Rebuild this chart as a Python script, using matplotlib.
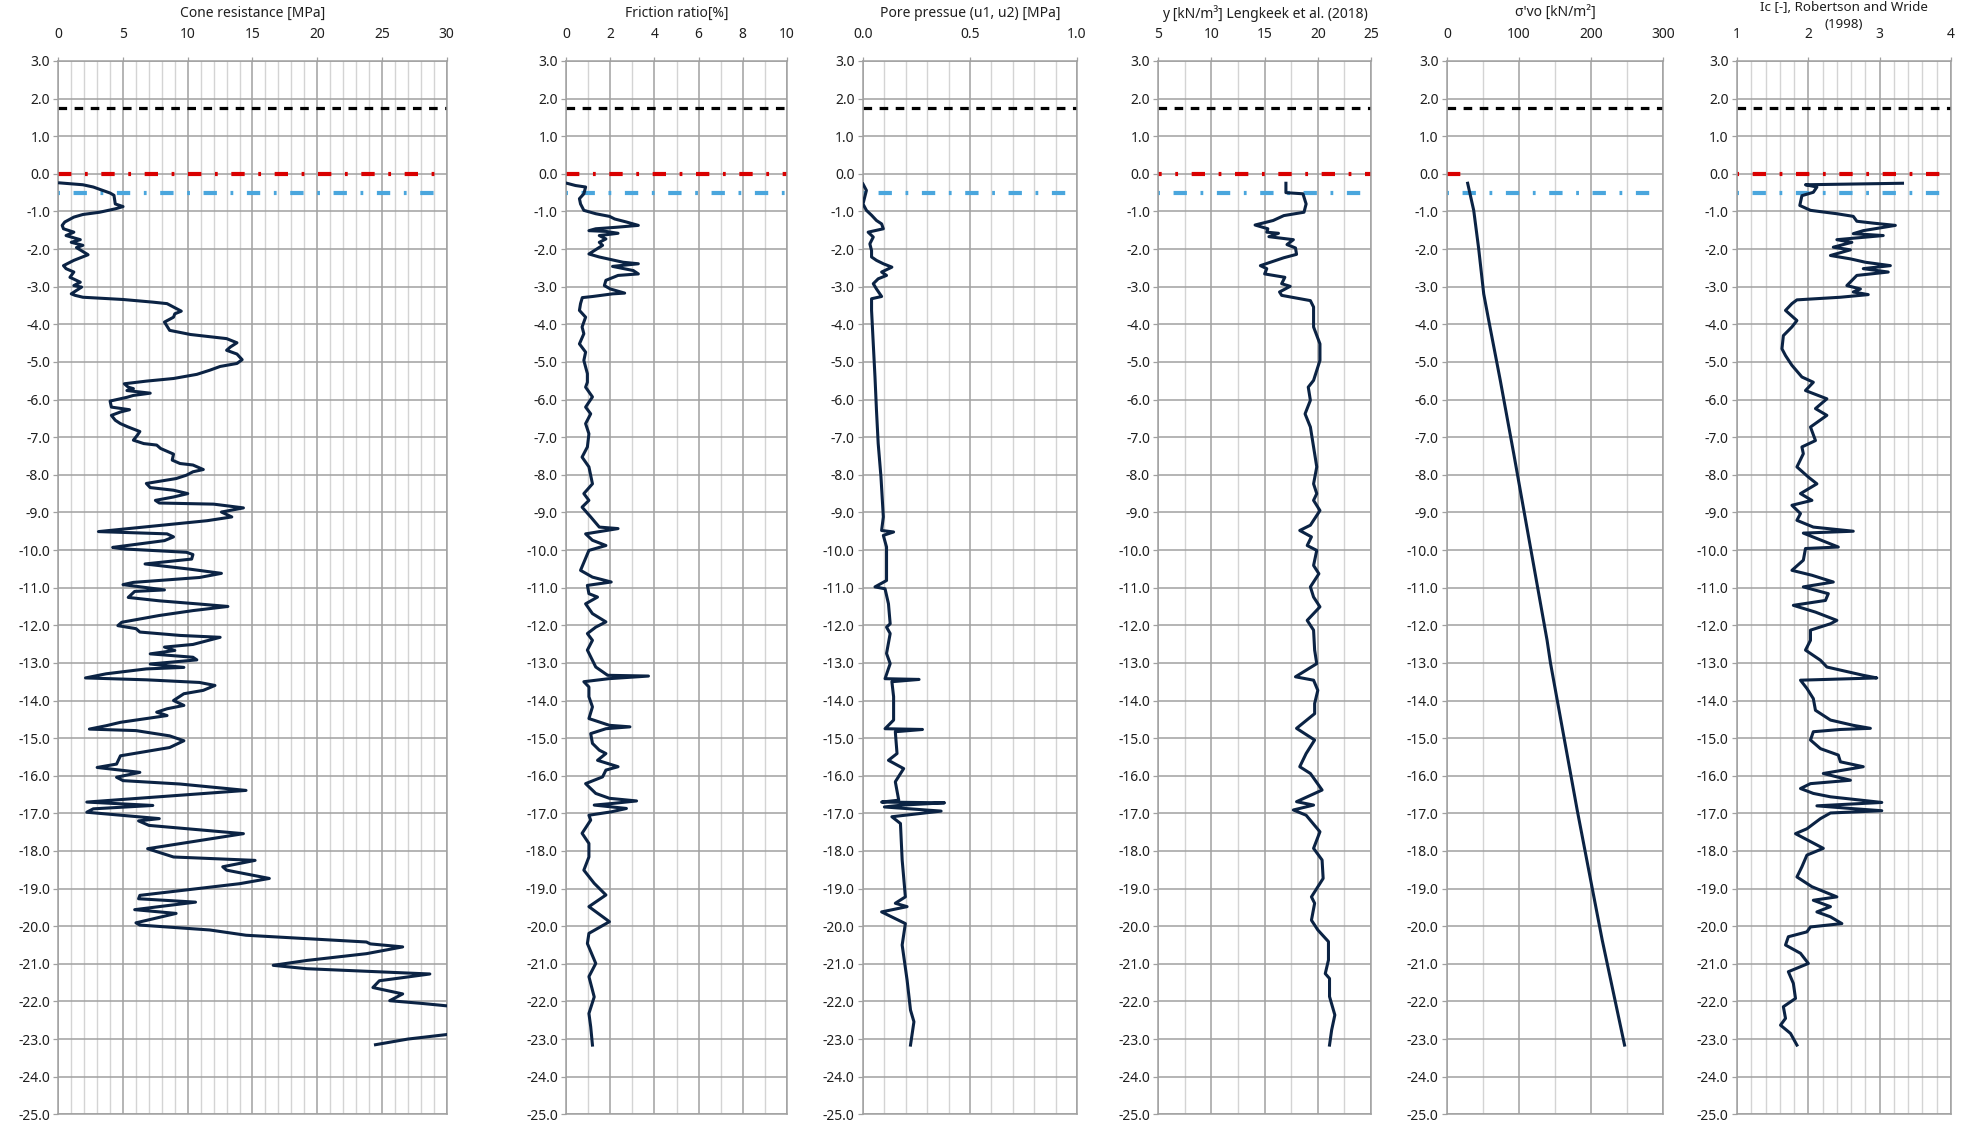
import matplotlib
matplotlib.use("Agg")
import matplotlib.pyplot as plt
from matplotlib.ticker import MultipleLocator, FormatStrFormatter

plt.rcParams['font.family'] = ['Noto Sans', 'DejaVu Sans']
plt.rcParams['axes.unicode_minus'] = False
plt.rcParams['lines.scale_dashes'] = False

# ---------------- CPT data (elevation in m, value) ----------------
qc_elev = [-0.24, -0.29, -0.35, -0.51, -0.57, -0.80, -0.87, -0.93, -1.02, -1.08, -1.15, -1.28,
           -1.37, -1.46, -1.55, -1.64, -1.75, -1.82, -1.90, -1.96, -2.15, -2.30, -2.44, -2.52,
           -2.61, -2.75, -2.88, -2.97, -3.01, -3.19, -3.23, -3.28, -3.34, -3.41, -3.45, -3.54,
           -3.65, -3.72, -3.81, -3.94, -4.16, -4.27, -4.38, -4.49, -4.60, -4.69, -4.79, -4.94,
           -5.04, -5.12, -5.22, -5.33, -5.44, -5.51, -5.58, -5.67, -5.71, -5.76, -5.83, -5.89,
           -5.94, -6.04, -6.20, -6.27, -6.33, -6.42, -6.55, -6.64, -6.73, -6.85, -6.95, -7.08,
           -7.17, -7.21, -7.30, -7.45, -7.61, -7.70, -7.74, -7.86, -7.92, -8.01, -8.10, -8.23,
           -8.34, -8.41, -8.50, -8.59, -8.68, -8.75, -8.78, -8.88, -8.99, -9.12, -9.22, -9.51,
           -9.57, -9.65, -9.75, -9.93, -9.97, -10.06, -10.12, -10.24, -10.37, -10.51, -10.62,
           -10.73, -10.86, -10.92, -11.06, -11.10, -11.26, -11.35, -11.43, -11.50, -11.61,
           -11.74, -11.92, -12.01, -12.09, -12.18, -12.27, -12.32, -12.41, -12.51, -12.58,
           -12.67, -12.76, -12.85, -12.92, -13.03, -13.12, -13.16, -13.29, -13.40, -13.45,
           -13.52, -13.60, -13.73, -13.82, -14.00, -14.13, -14.22, -14.31, -14.40, -14.58,
           -14.67, -14.76, -14.80, -14.94, -15.07, -15.25, -15.47, -15.69, -15.78, -15.91,
           -16.04, -16.13, -16.22, -16.39, -16.53, -16.70, -16.79, -16.88, -16.97, -17.05,
           -17.14, -17.20, -17.32, -17.54, -17.94, -18.16, -18.25, -18.42, -18.51, -18.73,
           -18.87, -19.18, -19.27, -19.36, -19.56, -19.66, -19.91, -19.97, -20.10, -20.24,
           -20.42, -20.47, -20.55, -20.73, -20.91, -21.04, -21.13, -21.27, -21.45, -21.63,
           -21.80, -21.98, -22.05, -22.15, -22.50, -22.88, -23.00, -23.15]
qc_mpa = [0.1, 1.9, 2.7, 4.0, 4.3, 4.4, 5.0, 4.4, 3.2, 1.9, 1.2, 0.5,
          0.3, 0.4, 1.2, 0.6, 1.7, 1.0, 1.9, 1.4, 2.3, 1.2, 0.4, 0.6,
          1.2, 0.9, 1.7, 1.2, 1.8, 1.0, 1.3, 1.9, 5.0, 7.3, 8.4, 8.9,
          9.5, 9.0, 8.9, 8.2, 8.6, 10.2, 13.0, 13.8, 13.3, 13.0, 13.8, 14.2,
          13.8, 12.5, 11.7, 10.7, 8.9, 6.8, 5.1, 5.4, 5.8, 5.3, 7.1, 5.8,
          5.3, 4.0, 4.1, 5.5, 4.8, 4.1, 4.4, 4.8, 5.4, 6.3, 6.1, 5.8,
          6.6, 7.6, 7.9, 8.9, 8.8, 9.4, 10.4, 11.2, 10.4, 9.9, 9.1, 6.8,
          7.1, 8.9, 10.0, 8.9, 7.5, 7.8, 12.0, 14.3, 12.6, 13.4, 11.5, 3.1,
          8.4, 8.9, 8.2, 4.2, 5.0, 9.9, 10.4, 10.3, 6.7, 10.2, 12.6,
          10.9, 5.8, 5.0, 8.2, 5.9, 5.4, 7.8, 10.7, 13.1, 10.4,
          7.8, 4.9, 4.6, 6.0, 6.3, 9.4, 12.5, 11.5, 10.4, 8.2,
          9.0, 7.1, 10.4, 10.7, 7.1, 9.7, 6.8, 3.7, 2.1, 6.8,
          10.9, 12.1, 11.2, 9.7, 8.9, 9.7, 8.4, 7.6, 8.4, 4.8,
          3.7, 2.4, 6.0, 8.6, 9.7, 8.6, 4.8, 4.5, 3.0, 6.3,
          4.5, 5.0, 9.4, 14.5, 8.9, 2.2, 7.3, 2.7, 2.2, 4.8,
          7.8, 6.2, 7.0, 14.3, 6.9, 8.9, 15.2, 12.7, 13.0, 16.3,
          14.0, 6.3, 6.2, 10.6, 5.9, 9.1, 6.0, 6.3, 11.7, 14.5,
          23.8, 24.1, 26.6, 23.8, 19.2, 16.6, 19.2, 28.7, 24.8, 24.3,
          26.6, 25.6, 28.0, 31.0, 40.0, 30.0, 27.0, 24.5]

rf_elev = [-0.25, -0.31, -0.35, -0.53, -0.66, -0.80, -0.97, -1.06, -1.13, -1.20, -1.28, -1.37,
           -1.42, -1.46, -1.51, -1.53, -1.58, -1.64, -1.73, -1.82, -1.90, -2.13, -2.21, -2.35,
           -2.39, -2.46, -2.57, -2.66, -2.70, -2.83, -2.97, -3.06, -3.17, -3.19, -3.26, -3.29,
           -3.45, -3.63, -3.81, -4.07, -4.25, -4.52, -4.74, -4.96, -5.31, -5.54, -5.67, -5.93,
           -6.20, -6.38, -6.64, -6.91, -7.26, -7.53, -7.79, -8.24, -8.50, -8.68, -8.86, -9.12,
           -9.39, -9.43, -9.57, -9.74, -9.88, -10.01, -10.54, -10.72, -10.85, -10.94, -11.16,
           -11.25, -11.43, -11.69, -11.91, -12.05, -12.22, -12.40, -12.66, -13.11, -13.33,
           -13.35, -13.42, -13.50, -13.64, -13.90, -14.17, -14.48, -14.66, -14.70, -14.75,
           -14.88, -15.14, -15.32, -15.41, -15.59, -15.76, -15.85, -16.03, -16.21, -16.47,
           -16.60, -16.67, -16.74, -16.78, -16.87, -16.96, -17.05, -17.18, -17.53, -17.80,
           -18.16, -18.51, -18.86, -19.17, -19.48, -19.88, -20.19, -20.46, -20.99, -21.34,
           -21.88, -22.32, -22.67, -23.16]
rf_pct = [0.03, 0.42, 0.88, 0.80, 0.60, 0.65, 0.80, 1.34, 1.96, 2.20, 2.73, 3.27,
          2.27, 1.34, 1.03, 1.80, 2.35, 1.50, 1.80, 1.50, 1.65, 1.03, 1.50, 2.58,
          3.27, 2.10, 3.04, 3.27, 2.35, 1.80, 1.73, 2.00, 2.65, 2.10, 1.20, 0.73,
          0.65, 0.60, 0.88, 0.72, 0.80, 0.60, 0.88, 0.80, 0.96, 0.96, 0.88, 1.19,
          0.88, 1.11, 0.88, 1.03, 0.96, 0.72, 1.03, 1.19, 0.80, 1.03, 0.72, 1.11,
          1.50, 2.35, 0.88, 1.19, 1.80, 1.03, 0.65, 1.19, 2.04, 0.96, 1.03,
          1.42, 0.88, 1.19, 1.80, 1.34, 0.96, 1.19, 0.96, 1.34, 1.88,
          3.73, 1.93, 0.80, 1.03, 1.03, 1.19, 1.03, 1.96, 2.89, 1.80,
          1.11, 1.19, 1.50, 1.80, 1.42, 2.35, 1.80, 1.65, 0.88, 1.34,
          1.96, 3.19, 2.04, 1.27, 2.73, 2.04, 1.03, 1.11, 0.72, 1.03,
          1.03, 0.80, 1.27, 1.80, 1.03, 1.96, 1.03, 0.96, 1.34, 1.03,
          1.27, 1.03, 1.11, 1.19]

u_elev = [-0.27, -0.44, -0.62, -0.80, -0.97, -1.10, -1.24, -1.33, -1.46, -1.55, -1.68, -1.86,
          -2.04, -2.21, -2.30, -2.39, -2.48, -2.61, -2.70, -2.79, -2.92, -3.06, -3.26, -3.32,
          -3.63, -4.52, -5.40, -6.29, -7.17, -8.06, -9.12, -9.48, -9.52, -9.61, -9.92, -10.81,
          -10.98, -11.03, -11.43, -11.96, -12.05, -12.22, -12.75, -13.02, -13.42, -13.44,
          -13.50, -13.90, -14.52, -14.75, -14.77, -14.83, -15.41, -15.59, -15.81, -16.16,
          -16.65, -16.70, -16.72, -16.78, -16.83, -16.94, -17.09, -17.27, -18.24, -19.22,
          -19.39, -19.48, -19.62, -19.93, -20.50, -21.43, -22.23, -22.54, -23.16]
u_mpa = [0.000, 0.016, 0.008, 0.000, 0.016, 0.040, 0.063, 0.087, 0.095, 0.024, 0.048, 0.032,
         0.040, 0.040, 0.063, 0.095, 0.135, 0.087, 0.110, 0.071, 0.048, 0.063, 0.087, 0.040,
         0.040, 0.048, 0.056, 0.063, 0.071, 0.084, 0.095, 0.087, 0.143, 0.095, 0.110, 0.110,
         0.056, 0.103, 0.119, 0.127, 0.110, 0.127, 0.110, 0.127, 0.103, 0.262,
         0.135, 0.143, 0.143, 0.103, 0.278, 0.151, 0.159, 0.119, 0.190, 0.151,
         0.167, 0.087, 0.381, 0.183, 0.100, 0.365, 0.135, 0.175, 0.183, 0.198,
         0.151, 0.206, 0.087, 0.198, 0.183, 0.206, 0.222, 0.238, 0.222]

gamma_elev = [-0.25, -0.50, -0.53, -0.80, -1.02, -1.11, -1.24, -1.36, -1.46, -1.55, -1.58, -1.67,
              -1.75, -1.88, -1.97, -2.14, -2.23, -2.44, -2.52, -2.66, -2.75, -2.92, -2.99, -3.14,
              -3.23, -3.37, -3.54, -4.07, -4.52, -4.96, -5.49, -5.67, -6.02, -6.38, -6.73, -7.26,
              -7.79, -8.24, -8.50, -8.68, -8.95, -9.34, -9.48, -9.65, -9.88, -10.01, -10.41,
              -10.63, -10.98, -11.25, -11.51, -11.78, -11.87, -12.13, -12.66, -13.02, -13.37,
              -13.46, -13.73, -14.08, -14.35, -14.74, -15.05, -15.41, -15.76, -15.94, -16.38,
              -16.69, -16.78, -16.91, -17.05, -17.49, -17.93, -18.24, -18.73, -19.22, -19.39,
              -19.84, -20.10, -20.41, -20.90, -21.26, -21.39, -21.87, -22.36, -22.76, -23.16]
gamma_kn = [17.0, 17.0, 18.6, 18.9, 18.7, 16.8, 15.8, 14.1, 15.3, 15.2, 16.3, 15.4,
            17.7, 17.1, 17.9, 18.0, 16.8, 14.6, 15.2, 15.0, 16.9, 16.6, 17.4, 16.4,
            16.6, 19.3, 19.6, 19.6, 20.2, 20.2, 19.6, 19.1, 19.3, 18.8, 19.3, 19.6,
            19.9, 19.6, 19.9, 19.6, 20.2, 19.3, 18.3, 19.4, 19.0, 19.9, 19.6,
            20.1, 19.3, 19.6, 20.2, 19.3, 19.0, 19.6, 19.7, 19.9, 17.9,
            19.6, 20.0, 19.7, 19.7, 18.0, 19.7, 18.9, 18.3, 19.3, 20.4,
            18.0, 19.6, 17.7, 18.9, 20.2, 19.6, 20.4, 20.5, 19.4, 19.7,
            19.4, 20.0, 21.0, 21.0, 20.7, 21.1, 21.1, 21.6, 21.3, 21.1]

sigma_elev = [-0.25, -0.97, -1.99, -3.19, -3.90, -5.49, -7.44, -12.40, -13.00, -16.91, -18.99,
              -20.37, -23.16]
sigma_kpa = [28.7, 37.1, 44.0, 51.0, 58.0, 74.0, 92.7, 139.0, 143.7, 180.8, 201.7, 215.6, 246.6]

ic_elev = [-0.25, -0.29, -0.35, -0.49, -0.58, -0.75, -0.84, -0.97, -1.06, -1.13, -1.26, -1.31,
           -1.37, -1.51, -1.59, -1.64, -1.75, -1.82, -1.95, -2.02, -2.17, -2.26, -2.35, -2.44,
           -2.52, -2.61, -2.70, -2.97, -3.06, -3.14, -3.21, -3.28, -3.35, -3.45, -3.63, -3.90,
           -4.07, -4.30, -4.65, -4.83, -5.09, -5.40, -5.54, -5.76, -5.98, -6.24, -6.42, -6.73,
           -7.09, -7.26, -7.44, -7.79, -8.06, -8.24, -8.50, -8.68, -8.81, -9.03, -9.21, -9.39,
           -9.50, -9.55, -9.92, -9.96, -10.27, -10.54, -10.67, -10.85, -10.98, -11.16, -11.34,
           -11.47, -11.65, -11.87, -11.96, -12.13, -12.40, -12.66, -12.93, -13.11, -13.33,
           -13.40, -13.46, -13.68, -13.95, -14.26, -14.52, -14.66, -14.74, -14.77, -14.83,
           -15.05, -15.28, -15.45, -15.63, -15.76, -15.94, -16.12, -16.21, -16.34, -16.47,
           -16.56, -16.71, -16.80, -16.87, -16.93, -16.99, -17.14, -17.41, -17.54, -17.93,
           -18.11, -18.42, -18.69, -18.95, -19.22, -19.31, -19.48, -19.62, -19.75, -19.93,
           -20.02, -20.15, -20.28, -20.50, -20.72, -20.99, -21.21, -21.52, -21.92, -22.14,
           -22.45, -22.63, -22.85, -23.16]
ic_val = [3.32, 1.96, 2.12, 2.07, 1.91, 1.89, 1.88, 2.03, 2.40, 2.63, 2.68, 2.91,
          3.22, 2.77, 2.63, 3.05, 2.40, 2.61, 2.35, 2.59, 2.31, 2.59, 2.80, 3.15,
          2.77, 3.12, 2.68, 2.54, 2.73, 2.63, 2.84, 2.45, 1.84, 1.77, 1.68, 1.84,
          1.77, 1.65, 1.63, 1.68, 1.77, 1.91, 2.07, 1.96, 2.26, 2.10, 2.26, 2.03,
          2.10, 1.91, 1.93, 1.84, 2.00, 2.12, 1.89, 2.05, 1.77, 1.89, 1.84, 2.07,
          2.63, 1.93, 2.42, 1.96, 1.93, 1.77, 2.05, 2.35, 1.93, 2.28, 2.24,
          1.79, 2.10, 2.40, 2.31, 2.03, 2.03, 1.96, 2.17, 2.26, 2.77,
          2.96, 1.89, 1.98, 2.07, 2.10, 2.31, 2.63, 2.87, 2.45, 2.07,
          2.03, 2.17, 2.42, 2.45, 2.77, 2.21, 2.59, 2.03, 1.89, 2.07,
          2.31, 3.03, 2.12, 2.59, 3.03, 2.31, 2.17, 1.98, 1.82, 2.21,
          1.98, 1.91, 1.84, 2.05, 2.40, 2.07, 2.31, 2.12, 2.31, 2.47,
          2.03, 1.98, 1.72, 1.68, 1.89, 2.00, 1.72, 1.79, 1.82, 1.65,
          1.68, 1.61, 1.75, 1.84]

# Reference levels (m)
top_level = 1.75
surface_level = 0.0
water_level = -0.5
surface_x = [0, 30]

titles = ["Cone resistance [MPa]", "Friction ratio[%]", "Pore pressue (u1, u2) [MPa]",
          "y [kN/m\u00b3] Lengkeek et al. (2018)", "\u03c3'vo [kN/m\u00b2]",
          "Ic [-], Robertson and Wride\n(1998)"]

# ---------------- layout ----------------
W, H = 1965, 1125
fig = plt.figure(figsize=(W / 100, H / 100), dpi=100)
fig.patch.set_facecolor('white')

y_top_px, y_bot_px = 61.0, 1114.3
panel_px = [(58.3, 446.7), (566.2, 786.8), (863.0, 1077.0),
            (1158.3, 1371.0), (1447.0, 1663.0), (1737.0, 1951.0)]
xlims = [(0, 30), (0, 10), (0, 1), (5, 25), (0, 300), (1, 4)]
majors = [5, 2, 0.5, 5, 100, 1]
minors = [1, 1, 0.1, 2.5, 50, 0.2]
xfmts = ['%d', '%d', '%.1f', '%d', '%d', '%d']
series = [(qc_mpa, qc_elev), (rf_pct, rf_elev), (u_mpa, u_elev),
          (gamma_kn, gamma_elev), (sigma_kpa, sigma_elev), (ic_val, ic_elev)]
show_surface = [True, True, False, True, True, True]

PROFILE = '#0b2344'
MAJOR_GRID = '#a0a0a0'
MINOR_GRID = '#d4d4d4'
RED = '#d90000'
BLUE = '#4aa6dd'
TEXT = '#1f1f1f'
FS = 10.0

for i, (x0, x1) in enumerate(panel_px):
    ax = fig.add_axes([x0 / W, 1 - y_bot_px / H, (x1 - x0) / W, (y_bot_px - y_top_px) / H])
    ax.set_xlim(*xlims[i])
    ax.set_ylim(-25, 3)

    ax.xaxis.set_major_locator(MultipleLocator(majors[i]))
    ax.xaxis.set_minor_locator(MultipleLocator(minors[i]))
    ax.xaxis.set_major_formatter(FormatStrFormatter(xfmts[i]))
    ax.yaxis.set_major_locator(MultipleLocator(1))
    ax.yaxis.set_major_formatter(FormatStrFormatter('%.1f'))

    ax.xaxis.tick_top()
    ax.tick_params(axis='x', which='major', top=True, bottom=False, length=3.2,
                   width=0.9, color=MAJOR_GRID, pad=10.5, labelsize=FS, labelcolor=TEXT)
    ax.tick_params(axis='x', which='minor', top=False, bottom=False, length=0)
    ax.tick_params(axis='y', which='major', left=True, length=3.6, width=0.9,
                   color=MAJOR_GRID, pad=2.4, labelsize=FS, labelcolor=TEXT)

    ax.grid(True, axis='x', which='minor', color=MINOR_GRID, lw=1.0, zorder=0)
    ax.grid(True, axis='x', which='major', color=MAJOR_GRID, lw=1.1, zorder=0)
    ax.grid(True, axis='y', which='major', color=MAJOR_GRID, lw=1.1, zorder=0)
    ax.set_axisbelow(True)
    for s in ax.spines.values():
        s.set_color(MAJOR_GRID)
        s.set_linewidth(1.1)

    # reference levels
    ax.axhline(top_level, color='black', lw=2.3, ls=(0, (6.2, 5.4)), zorder=2)
    if show_surface[i]:
        ax.plot(surface_x, [surface_level, surface_level], color=RED, lw=3.0,
                ls=(0, (9.6, 9.8, 2.0, 9.8)), zorder=2)
    ax.axhline(water_level, color=BLUE, lw=3.0, ls=(20.0, (9.6, 9.8, 2.0, 9.8)), zorder=2)

    xv, yv = series[i]
    ax.plot(xv, yv, color=PROFILE, lw=2.2, solid_joinstyle='round', zorder=3)

    xc = (x0 + x1) / 2 / W
    if '\n' in titles[i]:
        line1, line2 = titles[i].split('\n')
        fig.text(xc, 1 - 7.5 / H, line1, ha='center', va='center', fontsize=9.6, color=TEXT)
        fig.text(xc, 1 - 25.0 / H, line2, ha='center', va='center', fontsize=9.6, color=TEXT)
    else:
        fig.text(xc, 1 - 13.3 / H, titles[i], ha='center', va='center', fontsize=FS,
                 color=TEXT)

fig.savefig('out.png', dpi=100, facecolor='white')
